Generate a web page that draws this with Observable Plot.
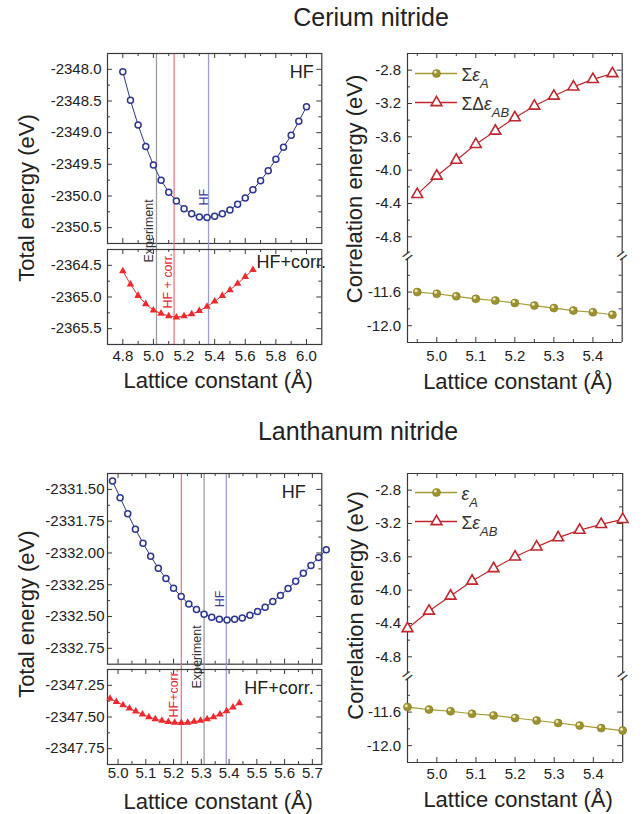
<!DOCTYPE html>
<html><head><meta charset="utf-8">
<script src="https://cdn.jsdelivr.net/npm/d3@7"></script>
<script src="https://cdn.jsdelivr.net/npm/@observablehq/plot@0.6"></script>
<style>
body{margin:0;background:#fff;}
#fig{position:relative;width:642px;height:814px;overflow:hidden;font-family:'Liberation Sans',Arial,Helvetica,sans-serif;color:#222;}
.title{position:absolute;width:400px;text-align:center;font-size:25px;line-height:25px;white-space:nowrap;}
</style></head><body>
<div id="fig">
<div class="title" style="left:171px;top:5px">Cerium nitride</div>
<div class="title" style="left:158px;top:419px">Lanthanum nitride</div>
</div>
<script>
// ================= DATA =================
// ---- Cerium nitride: total energy vs lattice constant ----
const ceHF_a = [4.80,4.85,4.90,4.95,5.00,5.05,5.10,5.15,5.20,5.25,5.30,5.35,5.40,5.45,5.50,5.55,5.60,5.65,5.70,5.75,5.80,5.85,5.90,5.95,6.00];
const ceHF_E = [-2348.04,-2348.49,-2348.88,-2349.22,-2349.51,-2349.75,-2349.94,-2350.08,-2350.20,-2350.28,-2350.33,-2350.34,-2350.32,-2350.28,-2350.22,-2350.13,-2350.03,-2349.90,-2349.76,-2349.60,-2349.42,-2349.23,-2349.04,-2348.82,-2348.59];
const ceHFc_a = [4.80,4.85,4.90,4.95,5.00,5.05,5.10,5.15,5.20,5.25,5.30,5.35,5.40,5.45,5.50,5.55,5.60,5.65];
const ceHFc_E = [-2364.59,-2364.80,-2364.98,-2365.11,-2365.21,-2365.26,-2365.30,-2365.32,-2365.30,-2365.27,-2365.22,-2365.15,-2365.07,-2364.98,-2364.89,-2364.79,-2364.68,-2364.57];
const ceRef_label = ["Experiment","HF + corr.","HF"];
const ceRef_a = [5.02,5.135,5.36];
// ---- Cerium nitride: correlation energies ----
const ceCorr_a = [4.95,5.00,5.05,5.10,5.15,5.20,5.25,5.30,5.35,5.40,5.45];
const ceEpsA = [-11.60,-11.62,-11.65,-11.68,-11.70,-11.73,-11.76,-11.79,-11.82,-11.84,-11.87];
const ceDEpsAB = [-4.29,-4.07,-3.88,-3.69,-3.53,-3.37,-3.23,-3.11,-3.00,-2.91,-2.84];
const ceLegend = ["Σε_A","ΣΔε_AB"];
// ---- Lanthanum nitride: total energy vs lattice constant ----
const laHF_a = [4.98,5.0075,5.035,5.0625,5.09,5.1175,5.145,5.1725,5.20,5.2275,5.255,5.2825,5.31,5.3375,5.365,5.3925,5.42,5.4475,5.475,5.5025,5.53,5.5575,5.585,5.6125,5.64,5.6675,5.695,5.7225,5.75];
const laHF_E = [-2331.434,-2331.566,-2331.692,-2331.813,-2331.923,-2332.025,-2332.120,-2332.201,-2332.277,-2332.343,-2332.401,-2332.445,-2332.482,-2332.506,-2332.522,-2332.527,-2332.522,-2332.511,-2332.490,-2332.461,-2332.427,-2332.382,-2332.335,-2332.280,-2332.222,-2332.159,-2332.099,-2332.036,-2331.975];
const laHFc_a = [4.971,4.994,5.018,5.041,5.064,5.088,5.111,5.134,5.158,5.181,5.204,5.228,5.251,5.274,5.297,5.321,5.344,5.367,5.391,5.414,5.437];
const laHFc_E = [-2347.354,-2347.380,-2347.406,-2347.432,-2347.456,-2347.479,-2347.500,-2347.516,-2347.529,-2347.539,-2347.544,-2347.547,-2347.544,-2347.536,-2347.529,-2347.516,-2347.500,-2347.479,-2347.453,-2347.424,-2347.391];
const laRef_label = ["Experiment","HF+corr.","HF"];
const laRef_a = [5.31,5.228,5.39];
// ---- Lanthanum nitride: correlation energies ----
const laCorr_a = [4.925,4.98,5.035,5.09,5.145,5.20,5.255,5.31,5.365,5.42,5.475];
const laEpsA = [-11.54,-11.57,-11.59,-11.62,-11.64,-11.67,-11.70,-11.73,-11.76,-11.79,-11.82];
const laEpsAB = [-4.46,-4.25,-4.07,-3.89,-3.74,-3.60,-3.48,-3.37,-3.28,-3.21,-3.15];
const laLegend = ["ε_A","Σε_AB"];

// ---- axis domains and ticks ----
const ceTotX = [4.7,6.1];
const ceTotXMajor = [4.8,5.0,5.2,5.4,5.6,5.8,6.0];
const ceTotXMinor = [4.9,5.1,5.3,5.5,5.7,5.9];
const ceHFY = [-2350.75,-2347.75];
const ceHFYMajor = [-2348.0,-2348.5,-2349.0,-2349.5,-2350.0,-2350.5];
const ceHFYMinor = [-2348.25,-2348.75,-2349.25,-2349.75,-2350.25];
const ceHFcY = [-2365.75,-2364.25];
const ceHFcYMajor = [-2364.5,-2365.0,-2365.5];
const ceHFcYMinor = [-2364.75,-2365.25];

const laTotX = [4.962,5.734];
const laTotXMajor = [5.0,5.1,5.2,5.3,5.4,5.5,5.6,5.7];
const laTotXMinor = [5.05,5.15,5.25,5.35,5.45,5.55,5.65];
const laHFY = [-2332.875,-2331.375];
const laHFYMajor = [-2331.50,-2331.75,-2332.00,-2332.25,-2332.50,-2332.75];
const laHFYMinor = [-2331.625,-2331.875,-2332.125,-2332.375,-2332.625];
const laHFcY = [-2347.875,-2347.125];
const laHFcYMajor = [-2347.25,-2347.50,-2347.75];
const laHFcYMinor = [-2347.375,-2347.625];

const corrX = [4.925,5.475];
const corrXMajor = [5.0,5.1,5.2,5.3,5.4];
const corrXMinor = [4.95,5.05,5.15,5.25,5.35,5.45];
const corrUpY = [-5.0,-2.6];
const corrUpYMajor = [-2.8,-3.2,-3.6,-4.0,-4.4,-4.8];
const corrUpYMinor = [-3.0,-3.4,-3.8,-4.2,-4.6];
const corrLoY = [-12.2,-11.2];
const corrLoYMajor = [-11.6,-12.0];
const corrLoYMinor = [-11.4,-11.8];

const xTitle = "Lattice constant (Å)";
const yTitleTot = "Total energy (eV)";
const yTitleCorr = "Correlation energy (eV)";

// ================= STYLE =================
const FONT = "'Liberation Sans', Arial, Helvetica, sans-serif";
const FRAME = "#3a3a3a";
const NAVY = "#2b3592", RED = "#ee2a2f", DARKRED = "#c1272d", OLIVE = "#a59b35", OLIVE_DOT = "#9c9230";
const REF_LINE = ["#9c9c9c","#f27880","#9d9dd2"];
const REF_TEXT = ["#333333","#e8262d","#3b3f9b"];
const TICK_FS = 15;
const ML = 110, MR = 40, MT = 40, MB = 60;
const fig = document.getElementById("fig");
const f1 = d => d.toFixed(1), f2 = d => d.toFixed(2);
const zip = (a, e) => a.map((x, i) => ({a: x, e: e[i]}));

function richify(svg) {
  const ns = "http://www.w3.org/2000/svg";
  svg.querySelectorAll("text").forEach(t => {
    const s = t.textContent;
    if (!s.includes("_")) return;
    const [main, sub] = s.split("_");
    t.textContent = "";
    for (const ch of main) {
      const ts = document.createElementNS(ns, "tspan");
      ts.textContent = ch;
      if (ch === "ε") ts.setAttribute("font-style", "italic");
      t.appendChild(ts);
    }
    const ts = document.createElementNS(ns, "tspan");
    ts.textContent = sub;
    ts.setAttribute("font-size", "13");
    ts.setAttribute("font-style", "italic");
    ts.setAttribute("dy", "7");
    t.appendChild(ts);
  });
}

function place(svg, left, top) {
  svg.style.position = "absolute";
  svg.style.left = left + "px";
  svg.style.top = top + "px";
  svg.style.maxWidth = "none";
  richify(svg);
  fig.appendChild(svg);
}

function panel({fx0, fx1, fy0, fy1, xDomain, yDomain, marks}) {
  const fw = fx1 - fx0, fh = fy1 - fy0;
  const svg = Plot.plot({
    width: fw + ML + MR, height: fh + MT + MB,
    marginLeft: ML, marginRight: MR, marginTop: MT, marginBottom: MB,
    x: {domain: xDomain, axis: null}, y: {domain: yDomain, axis: null},
    style: {fontFamily: FONT, fontSize: "14px", color: "#222", background: "transparent", overflow: "visible"},
    marks: marks(fw, fh)
  });
  place(svg, fx0 - ML, fy0 - MT);
}

function ticks(fw, fh, xMaj, xMin, yMaj, yMin, sides) {
  const s = {stroke: FRAME, strokeWidth: 1};
  const T = 5, t = 3, out = [];
  if (sides.includes("l")) out.push(Plot.ruleY(yMaj, {...s, insetRight: fw - T}), Plot.ruleY(yMin, {...s, insetRight: fw - t}));
  if (sides.includes("r")) out.push(Plot.ruleY(yMaj, {...s, insetLeft: fw - T}), Plot.ruleY(yMin, {...s, insetLeft: fw - t}));
  if (sides.includes("b")) out.push(Plot.ruleX(xMaj, {...s, insetTop: fh - T}), Plot.ruleX(xMin, {...s, insetTop: fh - t}));
  if (sides.includes("t")) out.push(Plot.ruleX(xMaj, {...s, insetBottom: fh - T}), Plot.ruleX(xMin, {...s, insetBottom: fh - t}));
  return out;
}
function refRules(refA, insetTop) {
  return refA.map((a, i) => Plot.ruleX([a], {stroke: REF_LINE[i], strokeWidth: 1.3, insetTop}));
}
function vText(value, label, color, anchor, dy, dx) {
  return Plot.text([value], {x: d => d, text: () => label, frameAnchor: anchor, dy, dx, rotate: -90,
    textAnchor: "start", lineAnchor: "bottom", fill: color, fontSize: 12.5});
}
function yAxis(ticksArr, pad, fmt) {
  return Plot.axisY(ticksArr, {anchor: "left", tickSize: 0, tickPadding: pad, tickFormat: fmt, fontSize: TICK_FS, label: null});
}
function xAxis(ticksArr, pad) {
  return Plot.axisX(ticksArr, {anchor: "bottom", tickSize: 0, tickPadding: pad, tickFormat: f1, fontSize: TICK_FS, label: null});
}
function label(txt, anchor, dx, dy, size, textAnchor = "end") {
  return Plot.text([txt], {text: d => d, frameAnchor: anchor, textAnchor, lineAnchor: "bottom", dx, dy, fontSize: size});
}
function yTitle(txt, dx, dy) {
  return Plot.text([txt], {text: d => d, frameAnchor: "left", rotate: -90, textAnchor: "middle", lineAnchor: "bottom", dx, dy, fontSize: 22});
}
function xTitleMark(dx, dy) {
  return Plot.text([xTitle], {text: d => d, frameAnchor: "bottom", textAnchor: "middle", lineAnchor: "bottom", dx, dy, fontSize: 22});
}
function breakMarks() {
  const o = {text: d => d, dy: 2.5, rotate: -38, fontSize: 18, textAnchor: "middle", lineAnchor: "middle", fill: FRAME};
  return [Plot.text(["="], {...o, frameAnchor: "bottom-left"}), Plot.text(["="], {...o, frameAnchor: "bottom-right"})];
}
function olive(data) {
  return [
    Plot.line(data, {x: "a", y: "e", stroke: OLIVE, strokeWidth: 1.2}),
    Plot.dot(data, {x: "a", y: "e", r: 4, fill: OLIVE_DOT, stroke: "#857c22", strokeWidth: 0.6}),
    Plot.dot(data, {x: "a", y: "e", r: 1.5, fill: "#efe9bc", dx: -1.2, dy: -1.4})
  ];
}
function redTri(data) {
  return [
    Plot.line(data, {x: "a", y: "e", stroke: DARKRED, strokeWidth: 1.2}),
    Plot.dot(data, {x: "a", y: "e", symbol: "triangle", r: 4, fill: "white", stroke: DARKRED, strokeWidth: 1.6})
  ];
}
function legend(labels, top) {
  const lm = 5, lw = 42, gap = 29, mt = 10;
  const svg = Plot.plot({
    width: lw + lm + 100, height: gap + 2 * mt,
    marginLeft: lm, marginRight: 100, marginTop: mt, marginBottom: mt,
    y: {type: "point", domain: labels, padding: 0, axis: null},
    style: {fontFamily: FONT, fontSize: "17px", color: "#333", background: "transparent", overflow: "visible"},
    marks: [
      Plot.ruleY([labels[0]], {stroke: OLIVE, strokeWidth: 1.5}),
      Plot.ruleY([labels[1]], {stroke: DARKRED, strokeWidth: 1.5}),
      Plot.dot([labels[0]], {y: d => d, r: 4, fill: OLIVE_DOT, stroke: "#857c22", strokeWidth: 0.6}),
      Plot.dot([labels[0]], {y: d => d, r: 1.5, fill: "#efe9bc", dx: -1.2, dy: -1.4}),
      Plot.dot([labels[1]], {y: d => d, symbol: "triangle", r: 4, fill: "white", stroke: DARKRED, strokeWidth: 1.6}),
      Plot.text(labels, {y: d => d, text: d => d, frameAnchor: "right", textAnchor: "start", dx: 4, dy: 2, fontSize: 17.5})
    ]
  });
  place(svg, 415 - lm, top - mt);
}

// ================= CERIUM NITRIDE =================
const ceHF = zip(ceHF_a, ceHF_E), ceHFc = zip(ceHFc_a, ceHFc_E);
panel({fx0: 106.7, fx1: 321, fy0: 53, fy1: 243, xDomain: ceTotX, yDomain: ceHFY, marks: (fw, fh) => [
  ...refRules(ceRef_a, 0),
  ...ticks(fw, fh, ceTotXMajor, ceTotXMinor, ceHFYMajor, ceHFYMinor, "lrtb"),
  Plot.frame({stroke: FRAME, strokeWidth: 1.2}),
  Plot.line(ceHF, {x: "a", y: "e", stroke: NAVY, strokeWidth: 1}),
  Plot.dot(ceHF, {x: "a", y: "e", r: 3, stroke: NAVY, strokeWidth: 1.5, fill: "white"}),
  vText(ceRef_a[2], ceRef_label[2], REF_TEXT[2], "bottom", -38, -1),
  yAxis(ceHFYMajor, 6, f1),
  label("HF", "top-right", -8, 24.5, 18),
  yTitle(yTitleTot, -73.7, 49.5)
]});
panel({fx0: 106.7, fx1: 321, fy0: 249, fy1: 344, xDomain: ceTotX, yDomain: ceHFcY, marks: (fw, fh) => [
  ...refRules(ceRef_a, -6),
  ...ticks(fw, fh, ceTotXMajor, ceTotXMinor, ceHFcYMajor, ceHFcYMinor, "lrtb"),
  Plot.frame({stroke: FRAME, strokeWidth: 1.2}),
  Plot.line(ceHFc, {x: "a", y: "e", stroke: RED, strokeWidth: 1}),
  Plot.dot(ceHFc, {x: "a", y: "e", symbol: "triangle", r: 2.8, fill: RED}),
  vText(ceRef_a[0], ceRef_label[0], REF_TEXT[0], "top", 13, -3),
  vText(ceRef_a[1], ceRef_label[1], REF_TEXT[1], "top", 59, -2),
  yAxis(ceHFcYMajor, 6, f1),
  xAxis(ceTotXMajor, 6),
  label("HF+corr.", "top-left", 149, 18.5, 18, "start"),
  xTitleMark(3.6, 44)
]});
const ceA = zip(ceCorr_a, ceEpsA), ceAB = zip(ceCorr_a, ceDEpsAB);
panel({fx0: 407, fx1: 621.7, fy0: 53, fy1: 253, xDomain: corrX, yDomain: corrUpY, marks: (fw, fh) => [
  ...ticks(fw, fh, corrXMajor, corrXMinor, corrUpYMajor, corrUpYMinor, "lrt"),
  Plot.ruleX(corrX, {stroke: FRAME, strokeWidth: 1.2}),
  Plot.ruleY([corrUpY[1]], {stroke: FRAME, strokeWidth: 1.2}),
  ...breakMarks(),
  ...redTri(ceAB),
  yAxis(corrUpYMajor, 6.5, f1),
  yTitle(yTitleCorr, -45, 35.5)
]});
panel({fx0: 407, fx1: 621.7, fy0: 258, fy1: 342, xDomain: corrX, yDomain: corrLoY, marks: (fw, fh) => [
  ...ticks(fw, fh, corrXMajor, corrXMinor, corrLoYMajor, corrLoYMinor, "lrb"),
  Plot.ruleX(corrX, {stroke: FRAME, strokeWidth: 1.2}),
  Plot.ruleY([corrLoY[0]], {stroke: FRAME, strokeWidth: 1.2}),
  ...olive(ceA),
  yAxis(corrLoYMajor, 6.5, f1),
  xAxis(corrXMajor, 7.5),
  xTitleMark(3, 47)
]});
legend(ceLegend, 72.7);

// ================= LANTHANUM NITRIDE =================
const laHF = zip(laHF_a, laHF_E), laHFc = zip(laHFc_a, laHFc_E);
panel({fx0: 106.7, fx1: 321, fy0: 473.3, fy1: 664, xDomain: laTotX, yDomain: laHFY, marks: (fw, fh) => [
  ...refRules(laRef_a, 0),
  ...ticks(fw, fh, laTotXMajor, laTotXMinor, laHFYMajor, laHFYMinor, "lrtb"),
  Plot.frame({stroke: FRAME, strokeWidth: 1.2}),
  Plot.line(laHF, {x: "a", y: "e", stroke: NAVY, strokeWidth: 1}),
  Plot.dot(laHF, {x: "a", y: "e", r: 3, stroke: NAVY, strokeWidth: 1.5, fill: "white"}),
  vText(laRef_a[2], laRef_label[2], REF_TEXT[2], "bottom", -57, -2),
  yAxis(laHFYMajor, 3, f2),
  label("HF", "top-right", -16, 25, 18),
  yTitle(yTitleTot, -73.7, 45.3)
]});
panel({fx0: 106.7, fx1: 321, fy0: 669, fy1: 764, xDomain: laTotX, yDomain: laHFcY, marks: (fw, fh) => [
  ...refRules(laRef_a, -5),
  ...ticks(fw, fh, laTotXMajor, laTotXMinor, laHFcYMajor, laHFcYMinor, "lrtb"),
  Plot.frame({stroke: FRAME, strokeWidth: 1.2}),
  Plot.line(laHFc, {x: "a", y: "e", stroke: RED, strokeWidth: 1}),
  Plot.dot(laHFc, {x: "a", y: "e", symbol: "triangle", r: 2.8, fill: RED}),
  vText(laRef_a[0], laRef_label[0], REF_TEXT[0], "top", 19, -3),
  vText(laRef_a[1], laRef_label[1], REF_TEXT[1], "top", 48, -3.5),
  yAxis(laHFcYMajor, 3, f2),
  xAxis(laTotXMajor, 2.5),
  label("HF+corr.", "top-right", -8, 25, 18),
  xTitleMark(3.6, 45)
]});
const laA = zip(laCorr_a, laEpsA), laAB = zip(laCorr_a, laEpsAB);
panel({fx0: 406.5, fx1: 621.7, fy0: 473, fy1: 673, xDomain: corrX, yDomain: corrUpY, marks: (fw, fh) => [
  ...ticks(fw, fh, corrXMajor, corrXMinor, corrUpYMajor, corrUpYMinor, "lrt"),
  Plot.ruleX(corrX, {stroke: FRAME, strokeWidth: 1.2}),
  Plot.ruleY([corrUpY[1]], {stroke: FRAME, strokeWidth: 1.2}),
  ...breakMarks(),
  ...redTri(laAB),
  yAxis(corrUpYMajor, 6.5, f1),
  yTitle(yTitleCorr, -44.5, 32)
]});
panel({fx0: 406.5, fx1: 621.7, fy0: 678, fy1: 762, xDomain: corrX, yDomain: corrLoY, marks: (fw, fh) => [
  ...ticks(fw, fh, corrXMajor, corrXMinor, corrLoYMajor, corrLoYMinor, "lrb"),
  Plot.ruleX(corrX, {stroke: FRAME, strokeWidth: 1.2}),
  Plot.ruleY([corrLoY[0]], {stroke: FRAME, strokeWidth: 1.2}),
  ...olive(laA),
  yAxis(corrLoYMajor, 6.5, f1),
  xAxis(corrXMajor, 5.5),
  xTitleMark(3, 44.5)
]});
legend(laLegend, 491.7);
</script></body></html>
